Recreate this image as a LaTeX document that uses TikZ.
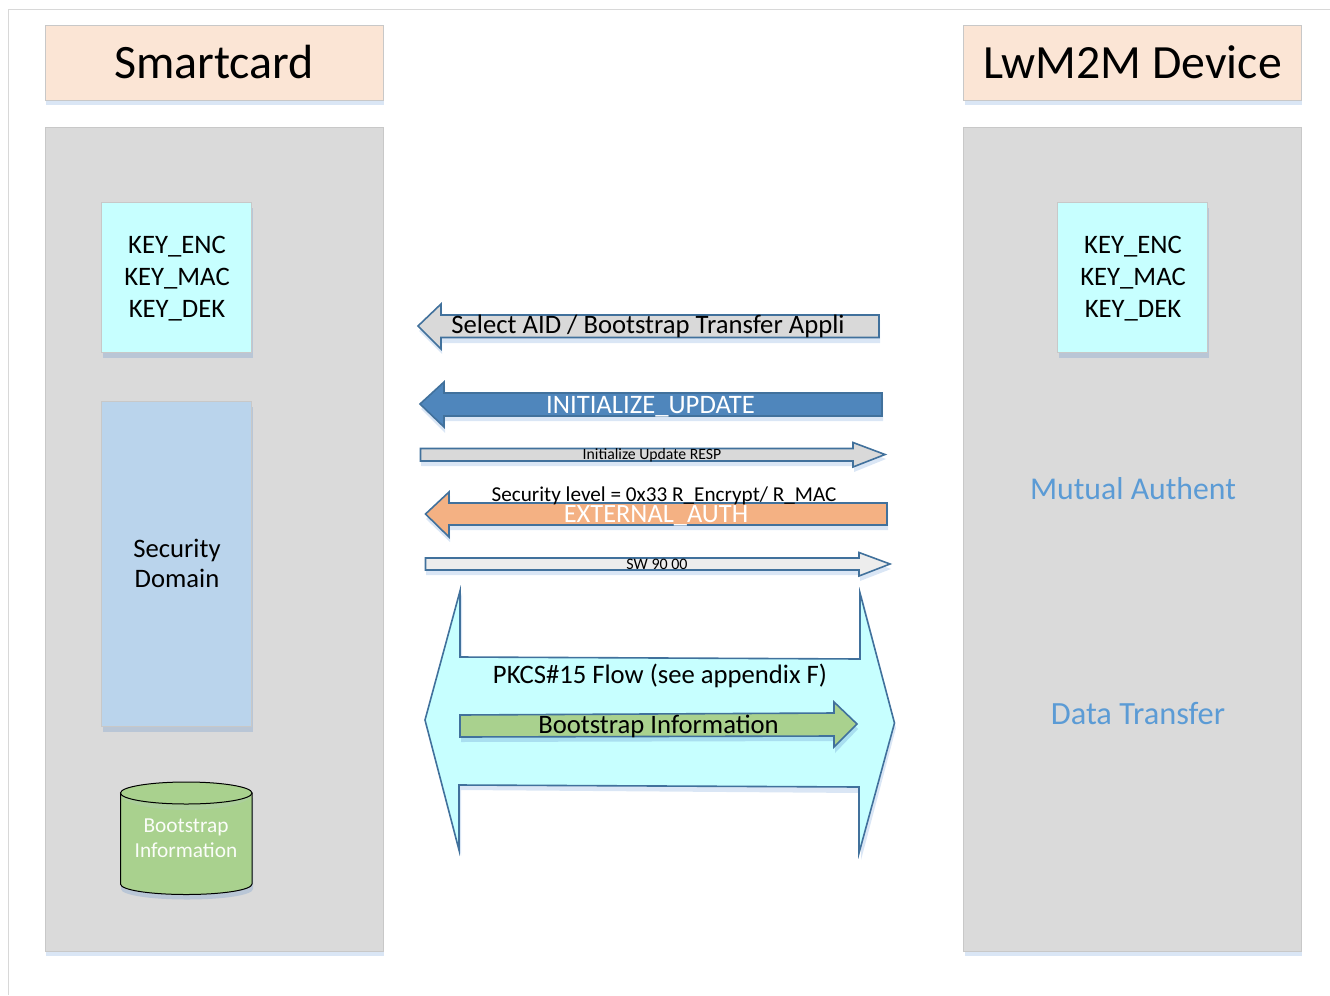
\documentclass[tikz,border=0pt]{standalone}
\usepackage{fontspec}
\setmainfont{Carlito}
\definecolor{shadowblue}{HTML}{DAE6F5}
\definecolor{shadowdark}{HTML}{B9C6D6}
\definecolor{shadowcyan}{HTML}{A9DFF0}
\definecolor{panelgray}{HTML}{DADADA}
\definecolor{edgegray}{HTML}{C8C8C8}
\definecolor{headpeach}{HTML}{FBE5D5}
\definecolor{keycyan}{HTML}{C7FFFF}
\definecolor{secblue}{HTML}{BAD4EC}
\definecolor{cylgreen}{HTML}{A9D18E}
\definecolor{arrowedge}{HTML}{41719C}
\definecolor{arrowblue}{HTML}{4F86BC}
\definecolor{arrowgray}{HTML}{D9D9D9}
\definecolor{arroworange}{HTML}{F4B183}
\definecolor{arrowlight}{HTML}{EDEDED}
\definecolor{linkblue}{HTML}{5B9BD5}
\newcommand{\sz}[2]{\fontsize{#1}{#2}\selectfont}
\tikzset{
  x=0.75pt, y=-0.75pt,
  panel/.style={fill=#1, draw=edgegray, line width=0.75pt},
  flow/.style={fill=#1, draw=arrowedge, line width=1.2pt, line join=miter},
  softshadow/.style={fill=shadowblue, draw=none},
  darkshadow/.style={fill=shadowdark, draw=none},
  label/.style={inner sep=0pt, text=black, align=center},
  keylabel/.style={label, font=\sz{20}{24}},
  seclabel/.style={label, font=\sz{20}{22.5}},
  cyllabel/.style={label, text=white!95!cylgreen, font=\sz{16}{18.75}},
}
\begin{document}
\begin{tikzpicture}
\useasboundingbox (0,0) rectangle (1330,995);
\draw[edgegray!70, line width=1pt] (8.5,995) -- (8.5,9.5) -- (1330,9.5);

% headers
\fill[softshadow] (46,30) rectangle (384,105);
\fill[softshadow] (965,30) rectangle (1302,105);
\path[panel=headpeach] (45.5,25.5) rectangle (383,100.5);
\path[panel=headpeach] (963.5,25.5) rectangle (1301,100.5);
\node[label, font=\sz{36}{40}] (smart) at (214,62) {Smartcard};
\node[label, font=\sz{35.8}{40}] (device) at (1132.5,62) {LwM2M Device};

% panels
\fill[softshadow] (46,132) rectangle (384,956);
\fill[softshadow] (965,132) rectangle (1302,956);
\path[panel=panelgray] (45.5,127.5) rectangle (383,951);
\path[panel=panelgray] (963.5,127.5) rectangle (1301,951);

% key boxes
\fill[darkshadow] (102.5,208) rectangle (252.5,357.5);
\fill[darkshadow] (1058.5,208) rectangle (1208.5,357.5);
\path[fill=keycyan, draw=edgegray, line width=0.5pt] (101.5,202.5) rectangle (251.5,352);
\path[fill=keycyan, draw=edgegray, line width=0.5pt] (1057.5,202.5) rectangle (1207.5,352);
\node[keylabel] (keysl) at (177,279) {KEY\_ENC\\KEY\_MAC\\KEY\_DEK};
\node[keylabel] (keysr) at (1133,279) {KEY\_ENC\\KEY\_MAC\\KEY\_DEK};

% security domain
\fill[darkshadow] (102.5,407) rectangle (252.5,731.5);
\path[fill=secblue, draw=edgegray, line width=0.5pt] (101.5,401.5) rectangle (251.5,726);
\node[seclabel] (sec) at (177,563.5) {Security\\Domain};

% cylinder
\path[darkshadow] (121,798) -- (121,889) .. controls (121,895) and (150,899.5) .. (187,899.5) .. controls (224,899.5) and (253,895) .. (253,889) -- (253,798) -- cycle;
\path[fill=cylgreen, draw=black, line width=0.75pt] (120.5,793) -- (120.5,884) .. controls (120.5,890) and (150,894.5) .. (186.25,894.5) .. controls (222,894.5) and (252,890) .. (252,884) -- (252,793) -- cycle;
\fill[fill=cylgreen!80!shadowdark] (121,794) .. controls (121,803) and (150,810) .. (186.25,810) .. controls (222,810) and (251.5,803) .. (251.5,794) -- cycle;
\path[fill=cylgreen, draw=black, line width=0.75pt] (186.25,793) ellipse[x radius=65.75, y radius=11];
\node[cyllabel] (cyl) at (186,838) {Bootstrap\\Information};

% side labels
\node[label, text=linkblue, font=\sz{23.8}{26}] (mutual) at (1133,488.5) {Mutual Authent};
\node[label, text=linkblue, font=\sz{24.3}{26}] (transfer) at (1138,713.5) {Data Transfer};

% arrow 1
\fill[softshadow] (419,331) -- (442,308) -- (442,320) -- (880,320) -- (880,343) -- (442,343) -- (442,354) -- cycle;
\path[flow=arrowgray] (418,326) -- (441,304) -- (441,315) -- (879,315) -- (879,337.5) -- (441,337.5) -- (441,349) -- cycle;
\node[label, font=\sz{20}{22}] (sel) at (648,326) {Select AID / Bootstrap Transfer Appli};

% arrow 2
\fill[softshadow] (421,409) -- (445,386) -- (445,398) -- (883,398) -- (883,421) -- (445,421) -- (445,433) -- cycle;
\path[flow=arrowblue] (420,404) -- (444,382) -- (444,393) -- (882,393) -- (882,416) -- (444,416) -- (444,427) -- cycle;
\node[label, text=white, font=\sz{20}{22}] (init) at (650.5,406.5) {INITIALIZE\_UPDATE};

% arrow 3
\fill[softshadow] (421,453) -- (854,453) -- (854,447) -- (886,459) -- (854,472) -- (854,466) -- (421,466) -- cycle;
\path[flow=arrowgray] (420.5,448.5) -- (853,448.5) -- (853,442.5) -- (885,454.5) -- (853,467) -- (853,461) -- (420.5,461) -- cycle;
\node[label, font=\sz{11.8}{13}] (resp) at (652,455) {Initialize Update RESP};

% arrow 4
\fill[softshadow] (426,519) -- (450,496) -- (450,508) -- (888,508) -- (888,530) -- (450,530) -- (450,542) -- cycle;
\path[flow=arroworange] (425.5,514) -- (449,492) -- (449,503) -- (887,503) -- (887,525) -- (449,525) -- (449,537) -- cycle;
\node[label, font=\sz{15.9}{18}] (level) at (664,495.5) {Security level = 0x33 R\_Encrypt/ R\_MAC};
\node[label, text=white, font=\sz{19.8}{22}] (ext) at (656,516) {EXTERNAL\_AUTH};

% arrow 5
\fill[softshadow] (426,563) -- (860,563) -- (860,557) -- (891,569) -- (860,581) -- (860,575) -- (426,575) -- cycle;
\path[flow=arrowlight] (425.5,558) -- (859,558) -- (859,552.5) -- (890,564) -- (859,576) -- (859,570) -- (425.5,570) -- cycle;
\node[label, font=\sz{12}{13}] (sw) at (657,564.5) {SW 90 00};

% big double arrow
\fill[softshadow] (427,725) -- (461,856) -- (461,790) -- (861,793) -- (861,860) -- (896,728) -- (862,596) -- (862,664) -- (462,661) -- (462,593) -- cycle;
\path[flow=keycyan] (425,720) -- (460,591) -- (460,657) -- (860,659) -- (860,593) -- (894.5,723) -- (859,853) -- (859,787) -- (459,785) -- (459,850) -- cycle;
\node[label, font=\sz{20}{22}] (pkcs) at (660,676) {PKCS\#15 Flow (see appendix F)};

% green arrow
\fill[shadowcyan] (461,720) -- (835,718) -- (835,706) -- (858,729) -- (835,753) -- (835,741) -- (461,742) -- cycle;
\path[flow=cylgreen] (460,715) -- (834,713) -- (834,702) -- (857,724) -- (834,747) -- (834,736) -- (460,737) -- cycle;
\node[label, font=\sz{20}{22}] (boot) at (658.5,726.5) {Bootstrap Information};
\end{tikzpicture}
\end{document}
